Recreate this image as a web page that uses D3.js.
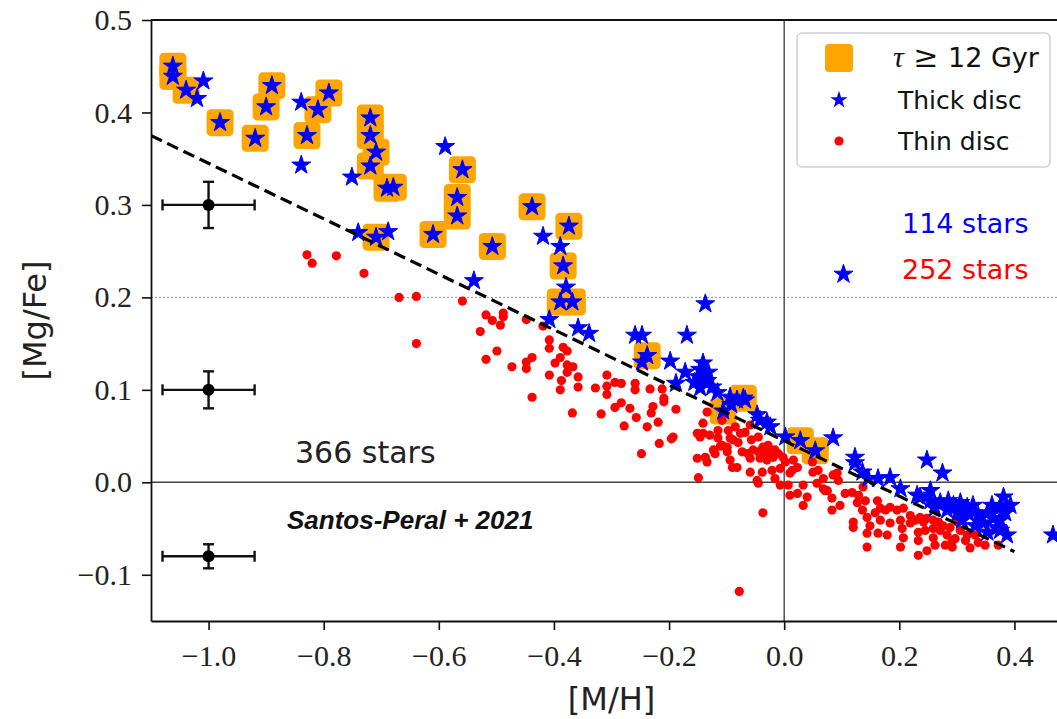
<!DOCTYPE html>
<html>
<head>
<meta charset="utf-8">
<script src="https://cdn.jsdelivr.net/npm/d3@7"></script>
<style>
  body { margin: 0; background: #fff; }
  svg { display: block; }
</style>
</head>
<body>
<svg id="chart" width="1057" height="719"></svg>
<script>
// [M/H], [Mg/Fe] pairs

// thin disc (red dots)
const thinDisc = [
  [-0.829,0.246],[-0.820,0.237],[-0.778,0.245],[-0.730,0.226],[-0.669,0.200],[-0.639,0.201],[-0.639,0.150],
  [-0.559,0.196],[-0.518,0.181],[-0.507,0.175],[-0.488,0.183],[-0.488,0.179],[-0.493,0.170],[-0.528,0.163],
  [-0.518,0.133],[-0.499,0.142],[-0.473,0.125],
  [-0.448,0.176],[-0.419,0.169],[-0.408,0.154],[-0.408,0.145],[-0.384,0.146],[-0.377,0.142],[-0.438,0.135],
  [-0.448,0.130],[-0.448,0.123],[-0.398,0.129],[-0.389,0.135],[-0.377,0.127],[-0.367,0.125],[-0.377,0.119],
  [-0.408,0.116],[-0.387,0.110],[-0.358,0.114],[-0.389,0.100],[-0.358,0.103],[-0.438,0.092],[-0.368,0.075],
  [-0.328,0.102],[-0.308,0.116],[-0.308,0.104],[-0.308,0.095],[-0.294,0.108],[-0.283,0.107],[-0.318,0.074],
  [-0.294,0.081],[-0.283,0.086],[-0.268,0.080],[-0.259,0.107],[-0.259,0.100],[-0.257,0.070],[-0.278,0.061],
  [-0.233,0.101],[-0.228,0.082],[-0.231,0.075],[-0.212,0.101],[-0.209,0.091],[-0.209,0.087],[-0.238,0.060],
  [-0.219,0.065],[-0.188,0.079],[-0.217,0.042],[-0.196,0.047],[-0.193,0.049],[-0.151,0.053],[-0.146,0.049],
  [-0.248,0.031],
  [-0.134,0.076],[-0.108,0.067],[-0.141,0.064],[-0.141,0.053],[-0.129,0.051],[-0.115,0.056],[-0.115,0.048],
  [-0.108,0.040],[-0.097,0.056],[-0.094,0.048],[-0.099,0.038],[-0.076,0.053],[-0.080,0.043],[-0.068,0.054],
  [-0.059,0.062],
  [-0.151,0.026],[-0.137,0.027],[-0.134,0.022],[-0.120,0.031],[-0.099,0.033],[-0.094,0.024],[-0.090,0.016],
  [-0.082,0.016],[-0.073,0.033],[-0.063,0.031],[-0.054,0.035],[-0.045,0.033],[-0.037,0.031],[-0.028,0.040],
  [-0.028,0.033],[-0.016,0.035],[-0.059,0.026],[-0.042,0.026],[-0.030,0.024],
  [-0.149,0.005],[-0.059,0.011],[-0.038,0.011],[-0.045,-0.001],[-0.021,0.013],[-0.007,0.015],[-0.016,0.004],
  [-0.007,-0.003],[0.007,-0.003],[0.014,0.013],[0.023,-0.012],[0.033,-0.003],[0.040,-0.016],[0.033,-0.025],
  [0.050,0.011],[0.057,-0.001],[0.068,0.004],[0.068,-0.007],[0.075,-0.009],[0.083,-0.017],[0.083,-0.030],
  [0.085,0.008],[0.094,0.002],[-0.037,-0.033],[-0.019,0.027],[-0.078,-0.118],
  [0.092,0.010],[0.071,-0.009],[0.097,-0.025],[0.106,-0.012],[0.118,-0.011],[0.129,-0.014],[0.137,-0.005],
  [0.127,-0.022],[0.141,-0.020],[0.136,-0.030],[0.144,-0.038],[0.120,-0.043],[0.120,-0.049],[0.144,-0.055],
  [0.163,-0.055],[0.144,-0.070],
  [0.162,-0.020],[0.167,-0.028],[0.158,-0.033],[0.176,-0.030],[0.184,-0.027],[0.196,-0.030],[0.207,-0.028],
  [0.184,-0.044],[0.202,-0.041],[0.205,-0.050],[0.207,-0.060],[0.219,-0.036],[0.219,-0.044],[0.228,-0.041],
  [0.236,-0.038],[0.242,-0.043],[0.233,-0.054],[0.233,-0.063],[0.202,-0.070],[0.233,-0.079],
  [0.248,-0.039],[0.259,-0.041],[0.268,-0.043],[0.259,-0.050],[0.276,-0.047],[0.288,-0.049],[0.259,-0.060],
  [0.262,-0.068],[0.283,-0.057],[0.292,-0.063],[0.292,-0.070],[0.301,-0.043],[0.306,-0.052],[0.318,-0.057],
  [0.315,-0.063],[0.323,-0.071],[0.337,-0.065],[0.372,-0.068],
  [-0.089,0.046],[-0.085,0.060],[-0.057,0.046],[-0.045,0.049],[-0.037,0.038],[-0.024,0.035],[-0.010,0.031],
  [-0.002,0.027],[0.016,0.024],[0.023,0.016],[0.010,0.010],[-0.047,0.002],[-0.123,0.035],[-0.111,0.039],
  [0.002,0.022],[0.010,-0.014],[0.167,-0.041],[0.245,-0.052],[0.271,-0.052],[0.280,-0.068],[0.332,-0.057],
  [0.349,-0.068],[0.149,-0.047],[0.179,-0.057],[0.297,-0.061],[0.248,-0.074],[0.049,0.022],[0.059,0.013]
]

// thick disc stars with age >= 12 Gyr (orange squares + blue star)
const oldStars = [
  [-1.062,0.450],[-1.062,0.439],[-1.039,0.424],[-0.980,0.389],[-0.919,0.372],[-0.890,0.429],[-0.900,0.406],
  [-0.810,0.403],[-0.791,0.421],[-0.829,0.375],[-0.719,0.394],[-0.719,0.375],[-0.709,0.357],[-0.719,0.342],
  [-0.690,0.318],[-0.679,0.319],[-0.709,0.265],[-0.610,0.268],[-0.559,0.338],[-0.568,0.308],[-0.568,0.288],
  [-0.507,0.255],[-0.438,0.298],[-0.374,0.277],[-0.384,0.234],[-0.389,0.195],[-0.368,0.195],[-0.238,0.137],
  [-0.071,0.091],[-0.106,0.077],[0.028,0.045],[0.054,0.034]
]

// remaining thick disc stars
const thickDisc = [
  [-1.009,0.434],[-1.020,0.415],[-0.839,0.411],[-0.839,0.343],[-0.751,0.330],[-0.740,0.270],[-0.688,0.271],
  [-0.589,0.363],[-0.539,0.218],[-0.419,0.266],[-0.389,0.255],[-0.379,0.211],[-0.408,0.176],[-0.358,0.167],
  [-0.339,0.161],[-0.259,0.159],[-0.247,0.159],[-0.169,0.159],[-0.137,0.193],[-0.247,0.130],[-0.198,0.131],
  [-0.172,0.119],[-0.188,0.107],[-0.146,0.122],[-0.132,0.119],[-0.149,0.114],[-0.134,0.110],[-0.146,0.102],
  [-0.125,0.103],[-0.141,0.129],[-0.094,0.092],[-0.082,0.089],[-0.092,0.084],[-0.047,0.073],[-0.030,0.065],
  [-0.042,0.067],[-0.024,0.060],[0.085,0.048],[0.123,0.027],[0.123,0.021],[0.136,0.011],[0.163,0.004],
  [0.184,0.005],[0.202,-0.007],[0.248,0.024],[0.275,0.010],[0.231,-0.014],[0.254,-0.009],[0.254,-0.020],
  [0.271,-0.022],[0.285,-0.020],[0.294,-0.025],[0.306,-0.022],[0.318,-0.027],[0.328,-0.025],[0.283,-0.030],
  [0.301,-0.033],[0.320,-0.034],[0.353,-0.033],[0.363,-0.039],[0.346,-0.044],[0.370,-0.049],[0.353,-0.054],
  [0.381,-0.016],[0.375,-0.027],[0.387,-0.057],[0.375,-0.041],[0.467,-0.057],[0.103,0.225],[0.262,-0.028],
  [0.337,-0.036],[0.361,-0.025],[0.309,-0.041],[0.384,-0.033],[-0.156,0.108],[-0.116,0.097],[-0.068,0.089],
  [0.002,0.049],[0.236,-0.016],[0.332,-0.047],[0.146,0.004],[0.393,-0.025],[0.306,-0.030],[0.375,-0.052]
]

// typical uncertainties: centre and half widths
const errX = [-1.0, -1.0, -1.0]
const errY = [0.30, 0.10, -0.08]
const errDX = [0.08, 0.08, 0.08]
const errDY = [0.025, 0.02, 0.013]

// dashed separation line end points
const fitLine = [[-1.1, 0.375], [0.40, -0.075]]

const xTicks = [-1.0, -0.8, -0.6, -0.4, -0.2, 0.0, 0.2, 0.4]
const yTicks = [-0.1, 0.0, 0.1, 0.2, 0.3, 0.4, 0.5]

const legendLabels = ['12 Gyr', 'Thick disc', 'Thin disc']
const countLabels = ['114 stars', '252 stars']

const sans = 'DejaVu Sans, sans-serif'
const serif = 'Liberation Serif, serif'

const svg = d3.select('#chart')
const x = d3.scaleLinear().domain([-1.1, 0.5]).range([151, 1072])
const y = d3.scaleLinear().domain([-0.15, 0.5]).range([621, 20])

svg.append('defs').append('clipPath').attr('id', 'plot')
  .append('rect')
  .attr('x', x(-1.1)).attr('y', y(0.5))
  .attr('width', x(0.5) - x(-1.1)).attr('height', y(-0.15) - y(0.5))

const plot = svg.append('g').attr('clip-path', 'url(#plot)')

// reference lines
plot.append('line')
  .attr('x1', x(-1.1)).attr('x2', x(0.5)).attr('y1', y(0.2)).attr('y2', y(0.2))
  .attr('stroke', '#888').attr('stroke-width', 0.9).attr('stroke-dasharray', '2,2')
plot.append('line')
  .attr('x1', x(-1.1)).attr('x2', x(0.5)).attr('y1', y(0)).attr('y2', y(0))
  .attr('stroke', '#444').attr('stroke-width', 1.4)
plot.append('line')
  .attr('x1', x(0)).attr('x2', x(0)).attr('y1', y(0.5)).attr('y2', y(-0.15))
  .attr('stroke', '#444').attr('stroke-width', 1.4)

const star = d3.symbol(d3.symbolStar, 112)
const sq = 27

plot.append('g')
  .selectAll('rect')
  .data(oldStars)
  .join('rect')
  .attr('x', d => x(d[0]) - sq / 2)
  .attr('y', d => y(d[1]) - sq / 2)
  .attr('width', sq).attr('height', sq).attr('rx', 4.5)
  .attr('fill', '#ffa500')

plot.append('g')
  .selectAll('circle')
  .data(thinDisc)
  .join('circle')
  .attr('cx', d => x(d[0])).attr('cy', d => y(d[1]))
  .attr('r', 4.6).attr('fill', '#ff0000')

plot.append('g')
  .selectAll('path')
  .data(oldStars.concat(thickDisc))
  .join('path')
  .attr('d', star)
  .attr('transform', d => `translate(${x(d[0])},${y(d[1])})`)
  .attr('fill', '#0000ff')
  .attr('stroke', '#0000ff').attr('stroke-width', 1).attr('stroke-linejoin', 'round')

plot.append('line')
  .attr('x1', x(fitLine[0][0])).attr('y1', y(fitLine[0][1]))
  .attr('x2', x(fitLine[1][0])).attr('y2', y(fitLine[1][1]))
  .attr('stroke', '#000').attr('stroke-width', 3.2).attr('stroke-dasharray', '12,6')

// error bars
const eb = svg.append('g').attr('stroke', '#111').attr('stroke-width', 2.4)
errX.forEach((cx, i) => {
  const cy = errY[i], dx = errDX[i], dy = errDY[i]
  eb.append('line').attr('x1', x(cx - dx)).attr('x2', x(cx + dx)).attr('y1', y(cy)).attr('y2', y(cy))
  eb.append('line').attr('x1', x(cx)).attr('x2', x(cx)).attr('y1', y(cy - dy)).attr('y2', y(cy + dy))
  ;[cx - dx, cx + dx].forEach(v =>
    eb.append('line').attr('x1', x(v)).attr('x2', x(v)).attr('y1', y(cy) - 5.5).attr('y2', y(cy) + 5.5))
  ;[cy - dy, cy + dy].forEach(v =>
    eb.append('line').attr('x1', x(cx) - 5.5).attr('x2', x(cx) + 5.5).attr('y1', y(v)).attr('y2', y(v)))
  eb.append('circle').attr('cx', x(cx)).attr('cy', y(cy)).attr('r', 6).attr('fill', '#000').attr('stroke', 'none')
})

// axes
const fmt = d3.format('.1f')
const xAxis = svg.append('g').attr('transform', `translate(0,${y(-0.15)})`)
  .call(d3.axisBottom(x).tickValues(xTicks).tickFormat(fmt).tickSize(9).tickSizeOuter(0).tickPadding(15))
const yAxis = svg.append('g').attr('transform', `translate(${x(-1.1)},0)`)
  .call(d3.axisLeft(y).tickValues(yTicks).tickFormat(fmt).tickSize(9).tickSizeOuter(0).tickPadding(10))

;[xAxis, yAxis].forEach(a => {
  a.select('.domain').attr('stroke', '#111').attr('stroke-width', 1.8)
  a.selectAll('.tick line').attr('stroke', '#111').attr('stroke-width', 1.6)
  a.selectAll('.tick text').attr('font-family', serif).attr('font-size', 30).attr('fill', '#222')
})

svg.append('line')
  .attr('x1', x(-1.1)).attr('x2', x(0.5)).attr('y1', y(0.5)).attr('y2', y(0.5))
  .attr('stroke', '#111').attr('stroke-width', 1.8)

// axis labels
svg.append('text')
  .attr('x', (x(-1.1) + x(0.5)) / 2).attr('y', 698).attr('dy', '0.36em')
  .attr('text-anchor', 'middle').attr('font-family', sans).attr('font-size', 32).attr('fill', '#222')
  .text('[M/H]')
svg.append('text')
  .attr('transform', `translate(34,${(y(0.5) + y(-0.15)) / 2}) rotate(-90)`)
  .attr('dy', '0.36em')
  .attr('text-anchor', 'middle').attr('font-family', sans).attr('font-size', 32).attr('fill', '#222')
  .text('[Mg/Fe]')

// annotations
svg.append('text')
  .attr('x', 295).attr('y', 452).attr('dy', '0.36em')
  .attr('font-family', sans).attr('font-size', 30).attr('fill', '#222')
  .text('366 stars')
svg.append('text')
  .attr('x', 287).attr('y', 520).attr('dy', '0.36em')
  .attr('font-family', 'Liberation Sans, Arial, sans-serif').attr('font-size', 26)
  .attr('font-weight', 'bold').attr('font-style', 'italic').attr('fill', '#111')
  .text('Santos-Peral + 2021')

const countColors = ['#0000ff', '#ff0000']
countLabels.forEach((t, i) => {
  svg.append('text')
    .attr('x', 902).attr('y', 223 + i * 46).attr('dy', '0.36em')
    .attr('font-family', sans).attr('font-size', 27).attr('fill', countColors[i])
    .text(t)
})

// legend
const lg = svg.append('g')
lg.append('rect')
  .attr('x', 797).attr('y', 33).attr('width', 253).attr('height', 134).attr('rx', 5)
  .attr('fill', '#fff').attr('fill-opacity', 0.85).attr('stroke', '#d0d0d0').attr('stroke-width', 1.5)

lg.append('rect')
  .attr('x', 839 - 14).attr('y', 58 - 14).attr('width', 28).attr('height', 28).attr('rx', 4)
  .attr('fill', '#ffa500')
lg.append('path').attr('d', d3.symbol(d3.symbolStar, 95)).attr('transform', 'translate(839,100)').attr('fill', '#0000ff')
lg.append('circle').attr('cx', 839).attr('cy', 141).attr('r', 4.6).attr('fill', '#ff0000')

const t0 = lg.append('text').attr('x', 893).attr('y', 57).attr('dy', '0.36em')
  .attr('font-size', 27).attr('fill', '#111')
t0.append('tspan').attr('font-family', serif).attr('font-style', 'italic').attr('font-size', 30).text('τ')
t0.append('tspan').attr('font-family', 'DejaVu Serif, serif').attr('font-size', 30).text(' ≥ ')
t0.append('tspan').attr('font-family', sans).text(legendLabels[0])

legendLabels.slice(1).forEach((t, i) => {
  lg.append('text')
    .attr('x', 898).attr('y', 100 + i * 41).attr('dy', '0.36em')
    .attr('font-family', sans).attr('font-size', 25).attr('fill', '#111')
    .text(t)
})
</script>
</body>
</html>
